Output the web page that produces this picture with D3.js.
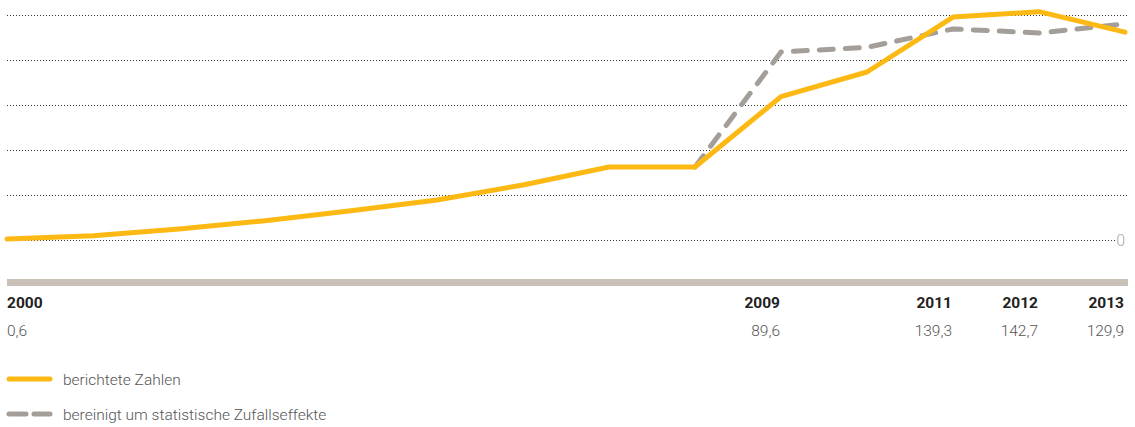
<!DOCTYPE html>
<html>
<head>
<meta charset="utf-8">
<script src="https://cdn.jsdelivr.net/npm/d3@7"></script>
<style>
  body { margin: 0; background: #fff; }
  svg { display: block; font-family: Roboto, "Open Sans", sans-serif; }
  .jahr { font-weight: 700; font-size: 15.5px; fill: #222; }
  .wert { font-weight: 300; font-size: 15.5px; fill: #555; }
  .leg { font-weight: 300; font-size: 15.5px; fill: #555; }
</style>
</head>
<body>
<div id="graf"></div>
<script>
// Daten
const jahre = [2000, 2001, 2002, 2003, 2004, 2005, 2006, 2007, 2008, 2009, 2010, 2011, 2012, 2013]
const berichtet = [0.6, 2.7, 6.9, 12.1, 18.3, 25.0, 34.4, 45.6, 45.6, 89.6, 105.0, 139.3, 142.7, 129.9]
const bereinigtJahre = [2008, 2009, 2010, 2011, 2012, 2013]
const bereinigt = [45.6, 117.5, 120.4, 131.9, 129.4, 135.0]
const gitterWerte = [0, 28.125, 56.25, 84.375, 112.5, 140.625]
const beschriftet = [
  { jahr: 2000, wert: "0,6" },
  { jahr: 2009, wert: "89,6" },
  { jahr: 2011, wert: "139,3" },
  { jahr: 2012, wert: "142,7" },
  { jahr: 2013, wert: "129,9" },
]
const legende = ["berichtete Zahlen", "bereinigt um statistische Zufallseffekte"]

// Farben
const orange = "#fdb913"
const grau = "#a39e98"

const anchoTotal = 1135
const altoTotal = 427

const svg = d3
  .select("#graf")
  .append("svg")
  .attr("width", anchoTotal)
  .attr("height", altoTotal)

// Escaladores
const x = d3.scaleLinear().domain([2000, 2013]).range([7, 1125])
const y = d3.scaleLinear().domain([0, 140.625]).range([240, 15])

// Gitter
svg
  .append("g")
  .selectAll("line")
  .data(gitterWerte)
  .join("line")
  .attr("x1", 7)
  .attr("x2", (d) => (d === 0 ? 1115 : 1128))
  .attr("y1", (d) => Math.round(y(d)) + 0.5)
  .attr("y2", (d) => Math.round(y(d)) + 0.5)
  .attr("stroke", "#333")
  .attr("stroke-width", 1)
  .attr("stroke-dasharray", "1,2")

svg
  .append("text")
  .attr("x", 1125)
  .attr("y", y(0) + 5.5)
  .attr("text-anchor", "end")
  .attr("font-size", 16)
  .attr("font-weight", 300)
  .attr("fill", "#aaa")
  .text("0")

// Linien
const line = d3
  .line()
  .x((d) => x(d[0]))
  .y((d) => y(d[1]))

svg
  .append("path")
  .datum(d3.zip(bereinigtJahre, bereinigt))
  .attr("d", line)
  .attr("fill", "none")
  .attr("stroke", grau)
  .attr("stroke-width", 5)
  .attr("stroke-linecap", "round")
  .attr("stroke-linejoin", "round")
  .attr("stroke-dasharray", "14,12")

svg
  .append("path")
  .datum(d3.zip(jahre, berichtet))
  .attr("d", line)
  .attr("fill", "none")
  .attr("stroke", orange)
  .attr("stroke-width", 5)
  .attr("stroke-linecap", "round")
  .attr("stroke-linejoin", "round")

// Balken
svg
  .append("rect")
  .attr("x", 7)
  .attr("y", 279)
  .attr("width", 1121)
  .attr("height", 7)
  .attr("fill", "#c9c1b8")

// Jahre und Werte
const anker = (d) => (d.jahr === 2000 ? "start" : "end")
const posX = (d) => (d.jahr === 2000 ? x(d.jahr) : x(d.jahr) - 1)
svg
  .append("g")
  .selectAll("text")
  .data(beschriftet)
  .join("text")
  .attr("class", "jahr")
  .attr("x", posX)
  .attr("y", 308)
  .attr("text-anchor", anker)
  .text((d) => d.jahr)

svg
  .append("g")
  .selectAll("text")
  .data(beschriftet)
  .join("text")
  .attr("class", "wert")
  .attr("x", posX)
  .attr("y", 336)
  .attr("text-anchor", anker)
  .text((d) => d.wert)

// Legende
const leg = svg.append("g")
leg
  .append("line")
  .attr("x1", 9).attr("x2", 50)
  .attr("y1", 379).attr("y2", 379)
  .attr("stroke", orange)
  .attr("stroke-width", 5)
  .attr("stroke-linecap", "round")
leg
  .append("line")
  .attr("x1", 9).attr("x2", 50)
  .attr("y1", 414).attr("y2", 414)
  .attr("stroke", grau)
  .attr("stroke-width", 5)
  .attr("stroke-linecap", "round")
  .attr("stroke-dasharray", "17,8")
leg
  .selectAll("text")
  .data(legende)
  .join("text")
  .attr("class", "leg")
  .attr("x", 63)
  .attr("y", (d, i) => 385 + i * 35)
  .text((d) => d)
</script>
</body>
</html>
